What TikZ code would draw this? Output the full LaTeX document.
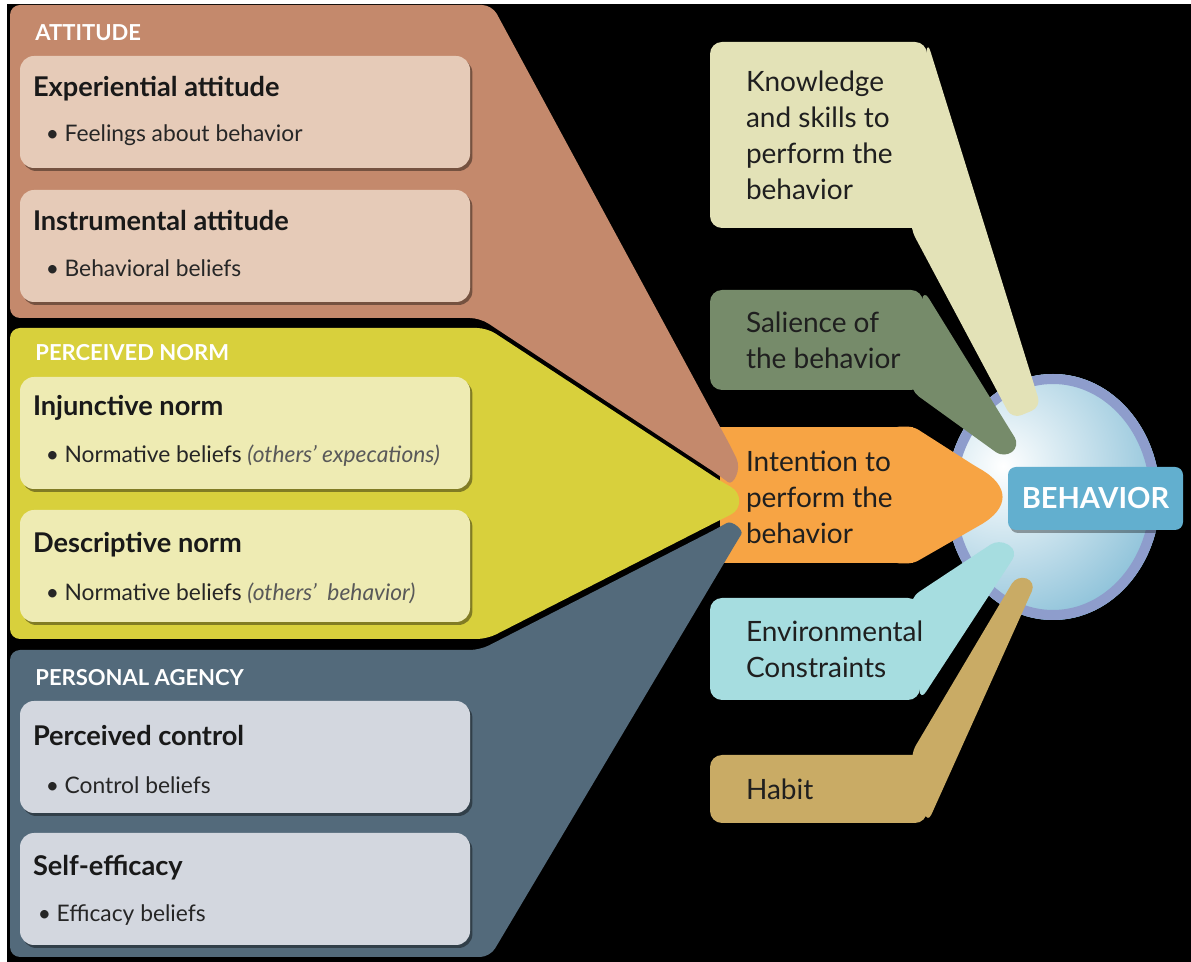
\documentclass[tikz,border=0pt]{standalone}
\usepackage{fontspec}
\setmainfont{Lato}
\usetikzlibrary{calc,shadows}

\definecolor{attback}{HTML}{C4896C}
\definecolor{attbox}{HTML}{E6CBB8}
\definecolor{normback}{HTML}{D8D03C}
\definecolor{normbox}{HTML}{EEEBB3}
\definecolor{agback}{HTML}{536A7B}
\definecolor{agbox}{HTML}{D3D7DF}
\definecolor{knowcol}{HTML}{E3E2B7}
\definecolor{salcol}{HTML}{768B6A}
\definecolor{intcol}{HTML}{F7A444}
\definecolor{envcol}{HTML}{A6DDE0}
\definecolor{habcol}{HTML}{C9AB65}
\definecolor{ringcol}{HTML}{8E9DCC}
\definecolor{ballcol}{HTML}{5DA8C9}
\definecolor{behcol}{HTML}{62AFCF}

\tikzset{
  inbox/.style={rounded corners=7pt, minimum width=225pt, minimum height=56pt, inner sep=0pt,
    drop shadow={shadow xshift=1.2pt, shadow yshift=-1.5pt, opacity=0.4, fill=black}},
  ttl/.style={anchor=west, inner sep=0pt, text=black!90, font=\bfseries\fontsize{13.6}{16}\selectfont},
  bul/.style={anchor=west, inner sep=0pt, text=black!85, font=\fontsize{11.4}{14}\selectfont},
  head/.style={anchor=west, inner sep=0pt, text=white, font=\bfseries\fontsize{11}{13}\selectfont},
  rbox/.style={rounded corners=6pt, inner sep=0pt},
  side/.style={anchor=west, align=left, inner sep=0pt, text=black!88, font=\fontsize{14}{18}\selectfont},
  tailpath/.style={rounded corners=5pt},
}

\begin{document}
\begin{tikzpicture}[x=0.5pt,y=-0.5pt]
\useasboundingbox (0,0) rectangle (1191,962);
\fill[white] (0,0) rectangle (1191,962);
\fill[black] (7,4) rectangle (1191,962);

% the behaviour ball
\coordinate (ball) at (1053,497);
\fill[ballcol] (ball) ellipse [x radius=53.5pt, y radius=61.5pt];
\begin{scope}
  \clip (ball) ellipse [x radius=53.5pt, y radius=61.5pt];
  \shade[inner color=white, outer color=ballcol] (1003,466) circle [radius=120pt];
\end{scope}
\draw[ringcol, line width=5pt] (ball) ellipse [x radius=51pt, y radius=59pt];

% right hand factors with their tails
\node[rbox, fill=knowcol, minimum width=108.5pt, minimum height=93pt] (know) at (818.5,135) {};
\coordinate (knowA) at (1041,407);
\coordinate (knowB) at (1012,419);
\fill[knowcol, tailpath] (know.north east) -- (knowA) -- (knowB) -- ([xshift=-8.5pt]know.south east) -- cycle;
\node[side] (knowT) at ($(know.west)+(36,0)$) {Knowledge\\and skills to\\perform the\\behavior};

\node[rbox, fill=salcol, minimum width=106.5pt, minimum height=50pt] (sal) at (816.5,340) {};
\coordinate (salA) at (1020,446);
\coordinate (salB) at (1004,458);
\fill[salcol, tailpath] (sal.north east) -- (salA) -- (salB) -- ([xshift=-6.5pt]sal.south east) -- cycle;
\node[side] (salT) at ($(sal.west)+(36,0)$) {Salience of\\the behavior};

\node[fill=intcol, inner sep=0pt, minimum width=96.5pt, minimum height=68pt] (intent) at (816.5,495) {};
\fill[intcol, rounded corners=3pt] ([xshift=-10pt]intent.north east) -- (intent.north east) -- (975,466)
  .. controls (1010,486) and (1010,508) .. (975,528) -- (intent.south east) -- ([xshift=-10pt]intent.south east) -- cycle;
\node[side] (intentT) at ($(intent.west)+(26,2)$) {Intention to\\perform the\\behavior};

\node[rbox, fill=envcol, minimum width=105pt, minimum height=51pt] (env) at (815,649) {};
\coordinate (envA) at (999,539);
\coordinate (envB) at (1018,551);
\fill[envcol, tailpath] ([xshift=-5pt]env.north east) -- (envA) -- (envB) -- (env.south east) -- cycle;
\node[side] (envT) at ($(env.west)+(36,0)$) {Environmental\\Constraints};

\node[rbox, fill=habcol, minimum width=108.5pt, minimum height=34pt] (hab) at (818.5,789) {};
\coordinate (habA) at (1017,575);
\coordinate (habB) at (1036,582);
\fill[habcol, tailpath] ([xshift=-8.5pt]hab.north east) -- (habA) -- (habB) -- (hab.south east) -- cycle;
\node[side] (habT) at ($(hab.west)+(36,0)$) {Habit};

% the three panels on the left
\fill[attback, rounded corners=5pt] (10,318) -- (10,5) -- (492,5) -- (732,449)
  .. controls (742,470) and (733,486) .. (720,476) -- (480,318) -- cycle;
\fill[normback, rounded corners=5pt] (10,639) -- (10,328) -- (487,328) -- (722,482)
  .. controls (742,493) and (742,509) .. (722,519) -- (487,639) -- cycle;
\fill[agback, rounded corners=5pt] (10,957) -- (10,650) -- (480,650) -- (718,528)
  .. controls (732,520) and (744,530) .. (736,543) -- (490,957) -- cycle;

\node[head] (attH) at (35,33) {ATTITUDE};
\node[head] (normH) at (35,353) {PERCEIVED NORM};
\node[head] (agH) at (35,678) {PERSONAL AGENCY};

\node[inbox, fill=attbox] (exper) at (245,112) {};
\node[ttl] (experT) at ($(exper.west)+(13,-23)$) {Experiential attitude};
\node[bul] (experB) at ($(exper.west)+(26,23)$) {•\hspace{2.7pt}Feelings about behavior};

\node[inbox, fill=attbox] (instr) at (245,246) {};
\node[ttl] (instrT) at ($(instr.west)+(13,-25)$) {Instrumental attitude};
\node[bul] (instrB) at ($(instr.west)+(26,22)$) {•\hspace{2.7pt}Behavioral beliefs};

\node[inbox, fill=normbox] (injun) at (245,433) {};
\node[ttl] (injunT) at ($(injun.west)+(13,-25)$) {Injunctive norm};
\node[bul] (injunB) at ($(injun.west)+(26,23)$) {•\hspace{2.7pt}Normative beliefs {\itshape\color{black!65}(others’ expecations)}};

\node[inbox, fill=normbox] (descr) at (245,566) {};
\node[ttl] (descrT) at ($(descr.west)+(13,-21)$) {Descriptive norm};
\node[bul] (descrB) at ($(descr.west)+(26,27)$) {•\hspace{2.7pt}Normative beliefs {\itshape\color{black!65}(others’\ \ behavior)}};

\node[inbox, fill=agbox] (contr) at (245,757) {};
\node[ttl] (contrT) at ($(contr.west)+(13,-21)$) {Perceived control};
\node[bul] (contrB) at ($(contr.west)+(26,28)$) {•\hspace{2.7pt}Control beliefs};

\node[inbox, fill=agbox] (effic) at (245,889) {};
\node[ttl] (efficT) at ($(effic.west)+(13,-21)$) {Self-efficacy};
\node[bul] (efficB) at ($(effic.west)+(18,26)$) {•\hspace{2.7pt}Efficacy beliefs};

% label on the ball
\node[fill=behcol, rounded corners=4pt, minimum width=87.5pt, minimum height=31.5pt, inner sep=0pt,
  text=white, font=\bfseries\fontsize{14.5}{17}\selectfont,
  drop shadow={shadow xshift=1pt, shadow yshift=-1.5pt, opacity=0.35, fill=black}] (beh) at (1095.5,498.5) {BEHAVIOR};
\end{tikzpicture}
\end{document}
